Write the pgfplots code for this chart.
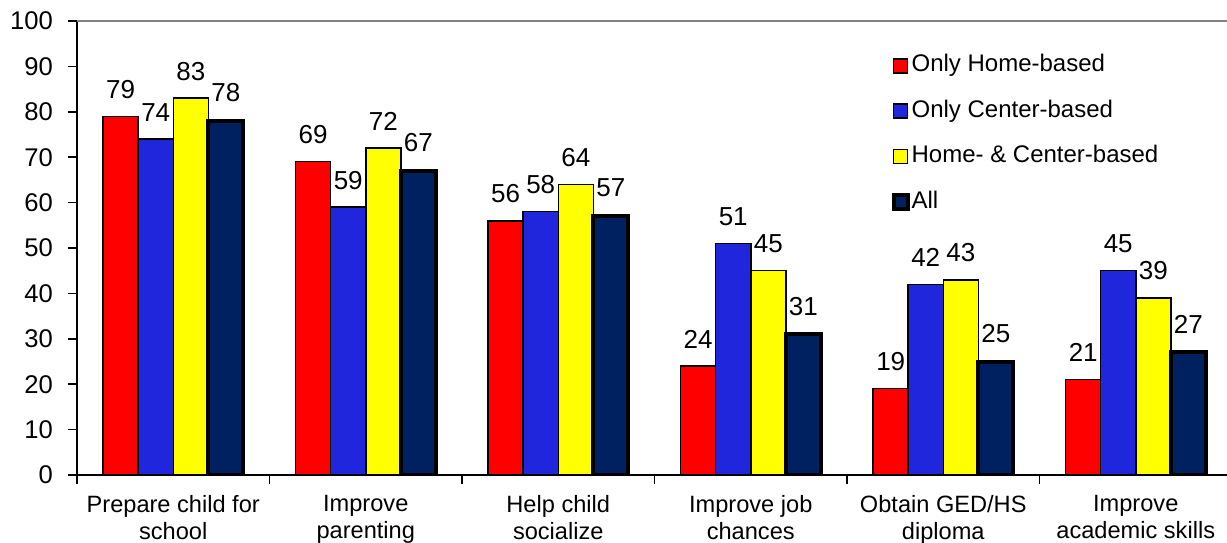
\documentclass[border=0pt]{standalone}
\usepackage{fontspec}
\setmainfont{Liberation Sans}
\usepackage{pgfplots}
\pgfplotsset{compat=1.18}

\definecolor{homeRed}{HTML}{FF0000}
\definecolor{centerBlue}{HTML}{1F26DC}
\definecolor{bothYellow}{HTML}{FFFF00}
\definecolor{allNavy}{HTML}{00215F}

\begin{document}
\begin{tikzpicture}[font=\fontsize{12.5}{13.5}\selectfont]
\begin{axis}[
    scale only axis,
    width=575pt, height=227pt,
    ymin=0, ymax=100,
    xmin=-0.5, xmax=5.474,
    ytick={0,10,...,100},
    axis x line=bottom,
    axis y line=left,
    axis line style={-, line width=0.75pt},
    tick align=outside,
    major tick length=4.5pt,
    tick style={black, line width=0.75pt},
    /pgf/number format/assume math mode=true,
    yticklabel style={xshift=-4pt, font=\fontsize{12.8}{14}\selectfont},
    xtick={-0.5,0.5,...,4.5},
    xticklabels={},
    extra x ticks={0,1,2,3,4,5},
    extra x tick labels={{Prepare child for\\school},{Improve\\parenting},{Help child\\socialize},{Improve job\\chances},{Obtain GED/HS\\diploma},{Improve\\academic skills}},
    extra x tick style={tick style={draw=none}},
    xticklabel style={align=center, yshift=-2pt, font=\fontsize{11.8}{13.8}\selectfont},
    extra y ticks={100},
    extra y tick labels={},
    extra y tick style={grid=major, major grid style={gray, line width=0.75pt}},
    ybar=0pt,
    bar width=0.182,
    nodes near coords,
    nodes near coords style={inner sep=0pt, yshift=8.5pt, black, font=\fontsize{13}{14}\selectfont},
    legend image code/.code={\draw[#1] (0pt,-3.5pt) rectangle (7pt,3.5pt);},
    legend style={draw=none, fill=none, at={(0.708,0.933)}, anchor=north west,
                  legend cell align=left, row sep=8.7pt, inner sep=0pt,
                  font=\fontsize{12}{13}\selectfont,
                  nodes={inner sep=1pt, text height=9pt, text depth=3pt}},
]
\addplot[fill=homeRed, draw=black, line width=0.75pt] coordinates {(0,79) (1,69) (2,56) (3,24) (4,19) (5,21)};
\addplot[fill=centerBlue, draw=black, line width=0.75pt] coordinates {(0,74) (1,59) (2,58) (3,51) (4,42) (5,45)};
\addplot[fill=bothYellow, draw=black, line width=0.75pt] coordinates {(0,83) (1,72) (2,64) (3,45) (4,43) (5,39)};
\addplot[fill=allNavy, draw=black, line width=2pt] coordinates {(0,78) (1,67) (2,57) (3,31) (4,25) (5,27)};
\legend{Only Home-based, Only Center-based, Home- \& Center-based, All}
\coordinate (sw) at (rel axis cs:0,0);
\coordinate (ne) at (rel axis cs:1,1);
\end{axis}
\pgfresetboundingbox
\path[use as bounding box] ([shift={(-38.5pt,-33.5pt)}]sw) rectangle ([yshift=10.5pt]ne);
\end{tikzpicture}
\end{document}
